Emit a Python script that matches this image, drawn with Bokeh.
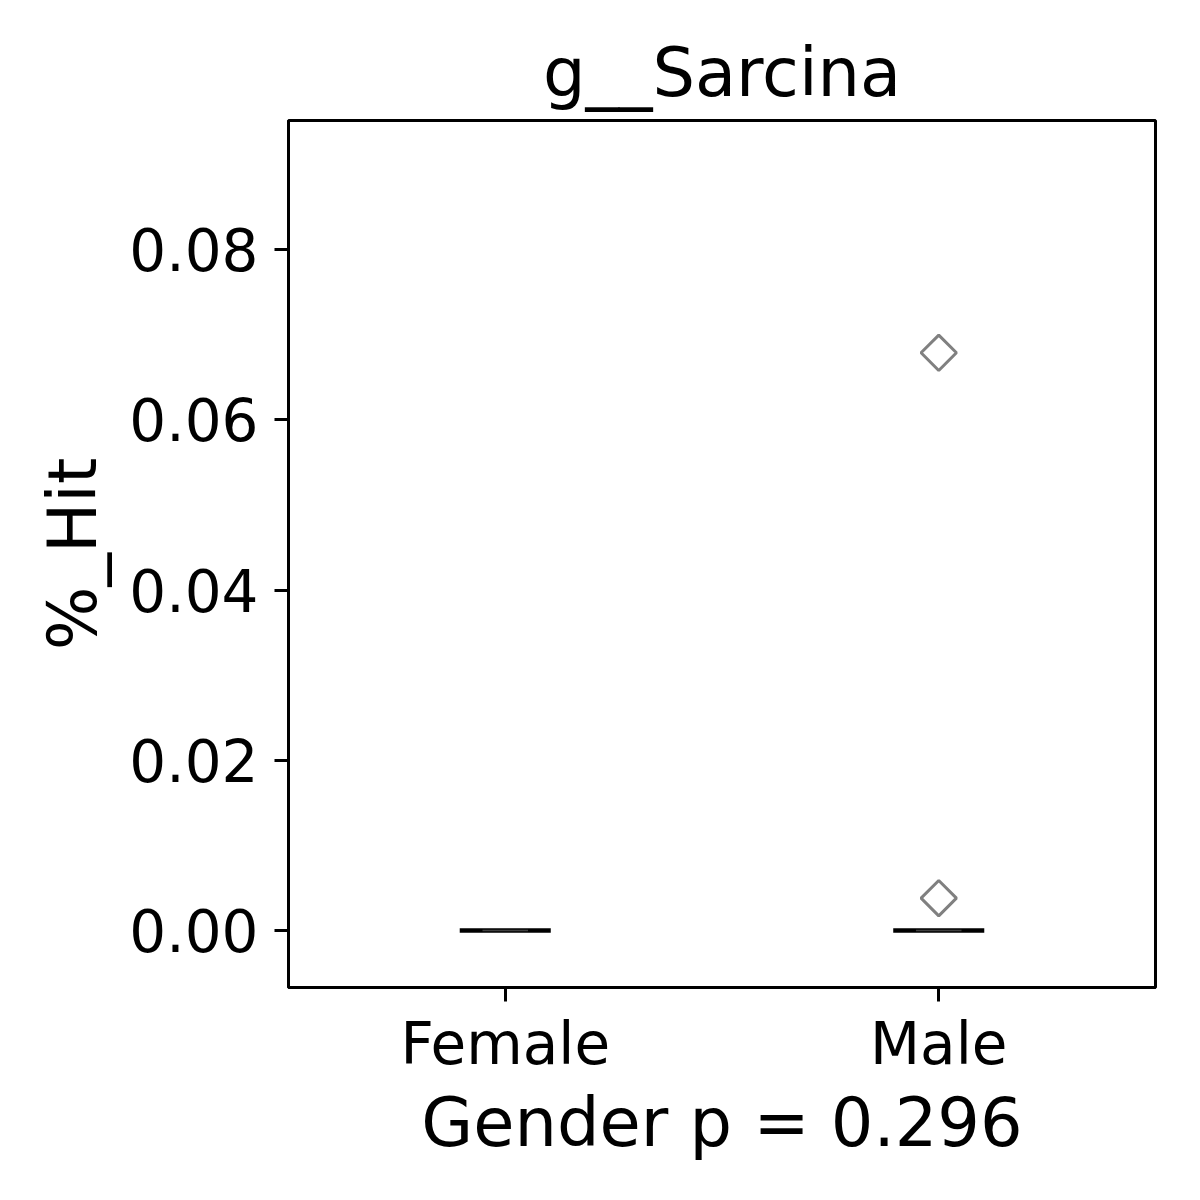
import numpy as np
from bokeh.plotting import figure
from bokeh.models import Range1d, FixedTicker, NumeralTickFormatter
from bokeh.embed import file_html
from bokeh.resources import INLINE

# ---- data ----
categories = ["Female", "Male"]
medians = [0.0, 0.0]
box_width = 0.21
outlier_group = ["Male", "Male"]
outlier_values = [0.0679, 0.0038]
y_ticks = [0.0, 0.02, 0.04, 0.06, 0.08]
title_text = "g__Sarcina"
x_label = "Gender p = 0.296"
y_label = "%_Hit"

positions = [i + 1 for i in range(len(categories))]
pos_of = dict(zip(categories, positions))

FONT = "DejaVu Sans"

p = figure(
    frame_width=867, frame_height=867,
    x_range=Range1d(0.5, 2.5), y_range=Range1d(-0.0067, 0.0952),
    output_backend="svg", toolbar_location=None, tools="",
    min_border_left=288, min_border_right=37, min_border_top=120, min_border_bottom=205,
    background_fill_color="white", border_fill_color="white",
)
p.grid.visible = False
p.outline_line_color = "black"
p.outline_line_width = 3

# title
p.title.text = title_text
p.title.align = "center"
p.title.text_font = FONT
p.title.text_font_size = "67px"
p.title.text_font_style = "normal"
p.title.text_color = "black"
p.title.standoff = 18

# axes
for ax in (p.xaxis[0], p.yaxis[0]):
    ax.axis_line_width = 3
    ax.major_tick_line_width = 3
    ax.major_tick_out = 14
    ax.major_tick_in = 0
    ax.minor_tick_line_color = None
    ax.major_label_text_font = FONT
    ax.major_label_text_font_size = "58px"
    ax.major_label_text_color = "black"
    ax.axis_label_text_font = FONT
    ax.axis_label_text_font_size = "67px"
    ax.axis_label_text_font_style = "normal"
    ax.axis_label_text_color = "black"

p.xaxis.ticker = FixedTicker(ticks=positions)
p.xaxis.major_label_overrides = {pos: c for pos, c in zip(positions, categories)}
p.xaxis.major_label_standoff = 8
p.xaxis.axis_label = x_label
p.xaxis.axis_label_standoff = 3

p.yaxis.ticker = FixedTicker(ticks=y_ticks)
p.yaxis.formatter = NumeralTickFormatter(format="0.00")
p.yaxis.major_label_standoff = 16
p.yaxis.axis_label = y_label
p.yaxis.axis_label_standoff = 14

# collapsed boxes (gray edge) and medians (black)
mx0 = [pp - box_width / 2 for pp in positions]
mx1 = [pp + box_width / 2 for pp in positions]
p.segment(x0=mx0, x1=mx1, y0=medians, y1=medians, line_color="black", line_width=4.5)
x0 = [pp - box_width / 4 for pp in positions]
x1 = [pp + box_width / 4 for pp in positions]
p.segment(x0=x0, x1=x1, y0=medians, y1=medians, line_color="#404040", line_width=1.5)

# outliers
ox = [pos_of[g] for g in outlier_group]
p.scatter(x=ox, y=outlier_values, marker="square", angle=np.pi / 4, size=25,
          fill_color=None, line_color="#808080", line_width=3)

open("out.html", "w").write(file_html(p, INLINE))
